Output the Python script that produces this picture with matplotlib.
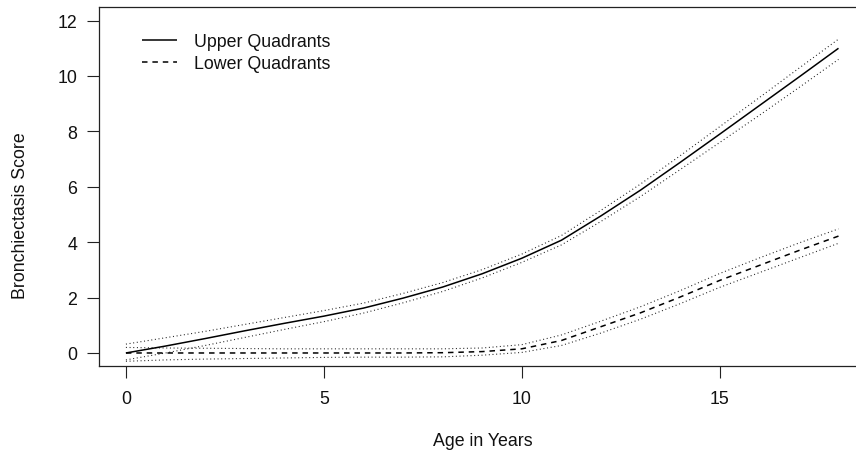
import matplotlib
matplotlib.use("Agg")
import matplotlib.pyplot as plt

# ---- data ----
age = [0, 1, 2, 3, 4, 5, 6, 7, 8, 9, 10, 11, 12, 13, 14, 15, 16, 17, 18]

upper_fit = [0.00, 0.25, 0.52, 0.80, 1.07, 1.33, 1.62, 1.98, 2.38, 2.86, 3.42,
             4.07, 4.95, 5.88, 6.88, 7.90, 8.93, 9.96, 11.00]
upper_hi = [0.32, 0.55, 0.78, 1.03, 1.28, 1.53, 1.80, 2.15, 2.54, 3.01, 3.57,
            4.24, 5.15, 6.10, 7.12, 8.17, 9.22, 10.28, 11.33]
upper_lo = [-0.25, 0.00, 0.27, 0.56, 0.85, 1.13, 1.44, 1.81, 2.22, 2.71, 3.27,
            3.90, 4.75, 5.65, 6.62, 7.60, 8.58, 9.58, 10.60]

lower_fit = [0.00, 0.00, 0.00, 0.00, 0.00, 0.00, 0.00, 0.00, 0.01, 0.05, 0.15,
             0.45, 0.95, 1.45, 2.02, 2.62, 3.16, 3.70, 4.22]
lower_hi = [0.20, 0.18, 0.17, 0.16, 0.15, 0.15, 0.15, 0.15, 0.15, 0.18, 0.30,
            0.65, 1.15, 1.67, 2.25, 2.87, 3.43, 3.97, 4.48]
lower_lo = [-0.30, -0.25, -0.22, -0.20, -0.18, -0.16, -0.15, -0.15, -0.14, -0.08, 0.02,
            0.27, 0.72, 1.22, 1.78, 2.37, 2.90, 3.43, 3.96]

series_labels = ["Upper Quadrants", "Lower Quadrants"]
x_ticks = [0, 5, 10, 15]
y_ticks = [0, 2, 4, 6, 8, 10, 12]

plt.rcParams['font.family'] = ['Liberation Sans', 'DejaVu Sans']
FS = 12.8
W, H = 856, 464
fig = plt.figure(figsize=(W / 100, H / 100), dpi=100)

# axes in pixel coordinates (right edge lies beyond the image)
left_px, right_px, top_px, bottom_px = 99, 867, 8, 367
ax = fig.add_axes([left_px / W, (H - bottom_px) / H,
                   (right_px - left_px) / W, (bottom_px - top_px) / H])

dot = dict(color='#222222', lw=0.8, linestyle=(0, (0.9, 2.4)))
ax.plot(age, upper_hi, **dot)
ax.plot(age, upper_lo, **dot)
ax.plot(age, lower_hi, **dot)
ax.plot(age, lower_lo, **dot)
l1, = ax.plot(age, upper_fit, color='black', lw=1.1, solid_capstyle='butt')
l2, = ax.plot(age, lower_fit, color='black', lw=1.1, linestyle=(0, (3.6, 3.2)))

ax.set_xlim(-0.68, 18.72)
ax.set_ylim(-0.47, 12.49)
ax.set_xticks(x_ticks)
ax.set_yticks(y_ticks)
ax.set_xticklabels([str(v) for v in x_ticks])
ax.set_yticklabels([str(v) for v in y_ticks])
ax.tick_params(axis='both', direction='out', length=8.5, width=0.8,
               colors='#222222', labelsize=FS, labelcolor='#111111')
ax.tick_params(axis='x', pad=9)
ax.tick_params(axis='y', pad=7)
for s in ax.spines.values():
    s.set_linewidth(0.9)
    s.set_color('#222222')

leg = ax.legend([l1, l2], series_labels, loc='upper left',
                bbox_to_anchor=(142 / W, (H - 34) / H),
                bbox_transform=fig.transFigure, frameon=False,
                fontsize=FS, handlelength=1.95, handletextpad=0.95,
                labelspacing=0.3, borderpad=0, borderaxespad=0)
for t in leg.get_texts():
    t.set_color('#111111')

fig.text(21 / W, 1 - 216 / H, "Bronchiectasis Score", rotation=90,
         ha='center', va='center', fontsize=FS, color='#111111')
fig.text(483 / W, 1 - 441 / H, "Age in Years", ha='center', va='center',
         fontsize=FS, color='#111111')

fig.savefig("out.png", dpi=100)
